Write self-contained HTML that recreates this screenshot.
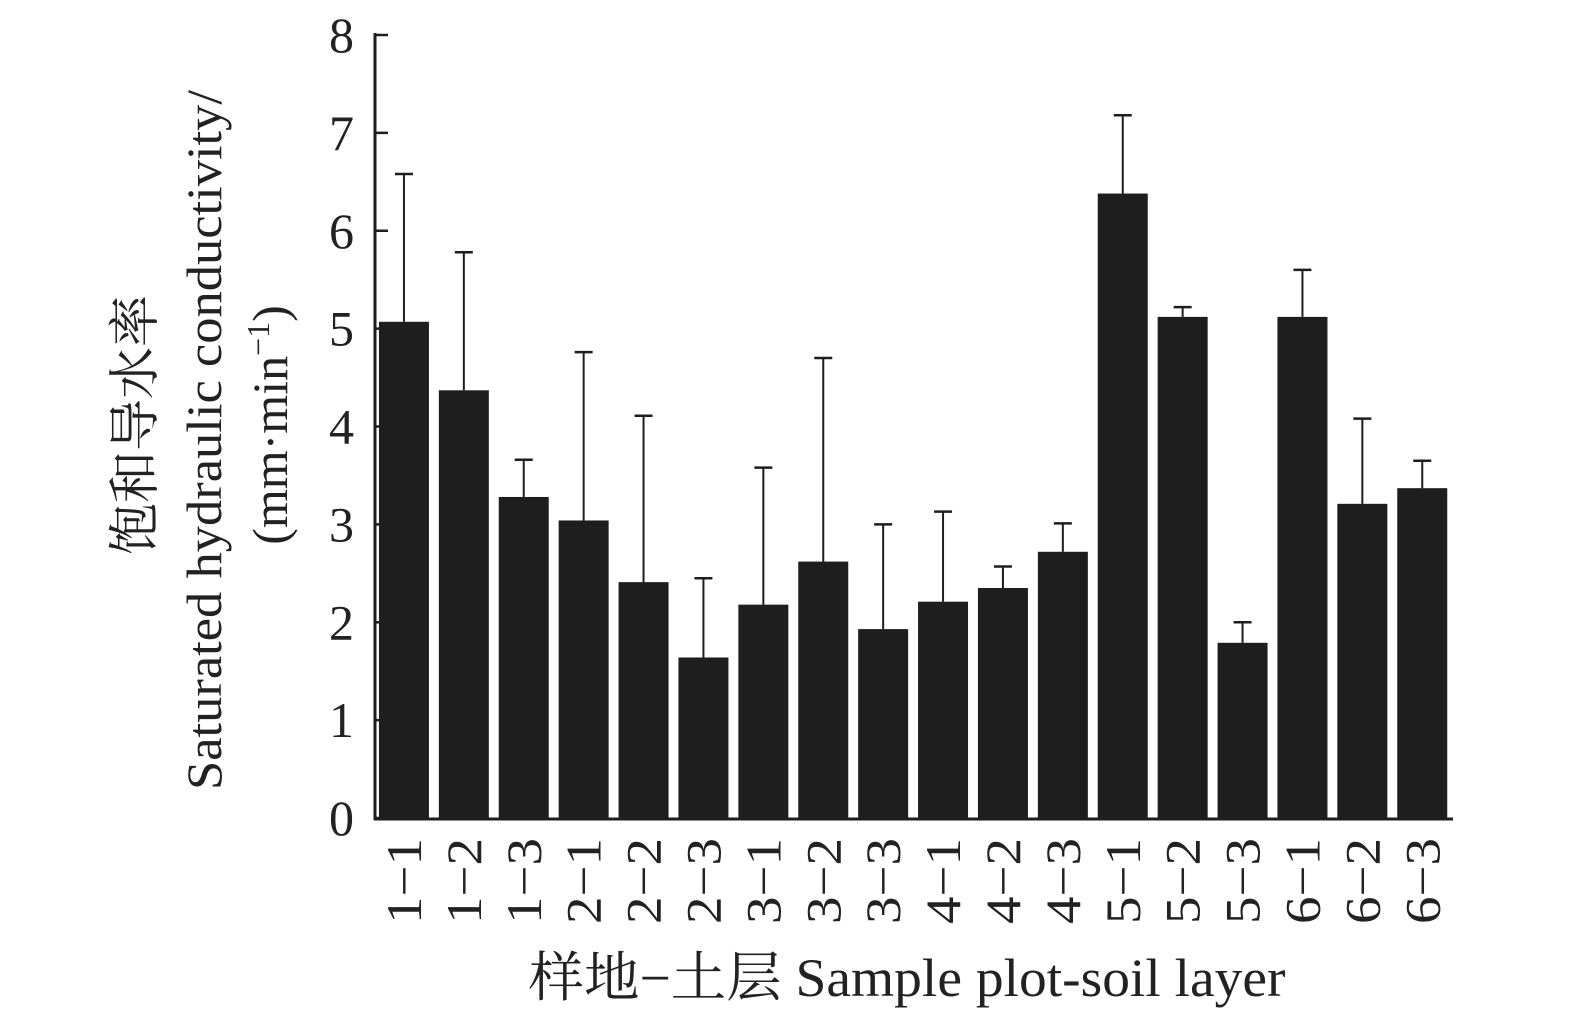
<!DOCTYPE html>
<html><head><meta charset="utf-8"><style>
html,body{margin:0;padding:0;background:#fff;}
svg{display:block;font-family:"Liberation Serif","Noto Serif CJK SC",serif;}
</style></head><body>
<svg id="chart" width="1575" height="1024" viewBox="0 0 1575 1024">
<g id="bars"></g>
<g id="errs"></g>
<g id="yaxis"></g>
<g id="xaxis"></g>
<text transform="translate(153,425) rotate(-90)" text-anchor="middle" font-size="52" fill="#222">饱和导水率</text>
<text transform="translate(221,440) rotate(-90)" text-anchor="middle" font-size="50" textLength="700" lengthAdjust="spacingAndGlyphs" fill="#222">Saturated hydraulic conductivity/</text>
<text transform="translate(287,425) rotate(-90)" text-anchor="middle" font-size="50" fill="#222">(mm·min<tspan dy="-18" font-size="32">−1</tspan><tspan dy="18">)</tspan></text>
<text x="907" y="996" text-anchor="middle" font-size="54" textLength="757" lengthAdjust="spacingAndGlyphs" fill="#222">样地−土层 Sample plot-soil layer</text>
</svg>
<script>
const categories=["1−1","1−2","1−3","2−1","2−2","2−3","3−1","3−2","3−3","4−1","4−2","4−3","5−1","5−2","5−3","6−1","6−2","6−3"];
const means=[5.07,4.37,3.28,3.04,2.41,1.64,2.18,2.62,1.93,2.21,2.35,2.72,6.38,5.12,1.79,5.12,3.21,3.37];
const upper=[6.58,5.78,3.66,4.76,4.11,2.45,3.58,4.70,3.00,3.13,2.57,3.01,7.18,5.22,2.00,5.60,4.08,3.65];
const yTicks=[0,1,2,3,4,5,6,7,8];
const NS="http://www.w3.org/2000/svg";
const x0=376,slot=59.9,bw=50,y0=818,yTop=35,yMax=8;
const y=v=>y0-(v/yMax)*(y0-yTop);
const xc=i=>x0+slot*(i+0.5)-2;
function mk(t,a,p){const e=document.createElementNS(NS,t);for(const k in a)e.setAttribute(k,a[k]);p.appendChild(e);return e;}
const gb=document.getElementById('bars'),ge=document.getElementById('errs'),gy=document.getElementById('yaxis'),gx=document.getElementById('xaxis');
categories.forEach((c,i)=>{
  const r=mk('rect',{x:xc(i)-bw/2,y:y(means[i]),width:bw,height:y0-y(means[i]),fill:'#1e1e1e'},gb);
  
  
  const l=mk('line',{x1:xc(i),x2:xc(i),y1:y(means[i]),y2:y(upper[i]),stroke:'#1e1e1e','stroke-width':2},ge);
  
  
  const cp=mk('line',{x1:xc(i)-9,x2:xc(i)+9,y1:y(upper[i]),y2:y(upper[i]),stroke:'#1e1e1e','stroke-width':2.5},ge);
  
  
  const t=mk('text',{transform:`translate(${xc(i)+17},${838}) rotate(-90)`,'text-anchor':'end','font-size':50,textLength:86,lengthAdjust:'spacingAndGlyphs',fill:'#222'},gx);
  t.textContent=c;
  
  
});
mk('line',{x1:x0-1,x2:x0-1,y1:y(8)-2,y2:y0+2,stroke:'#1e1e1e','stroke-width':3},gy);
mk('line',{x1:x0-2,x2:1453,y1:y0+1,y2:y0+1,stroke:'#1e1e1e','stroke-width':3},gx);
yTicks.forEach(v=>{
  const tk=mk('line',{x1:x0,x2:x0+12,y1:y(v),y2:y(v),stroke:'#1e1e1e','stroke-width':2.5},gy);
  
  
  const t=mk('text',{x:354,y:y(v)+17,'text-anchor':'end','font-size':50,fill:'#222'},gy);
  t.textContent=v;
  
  
});
</script>
</body></html>
